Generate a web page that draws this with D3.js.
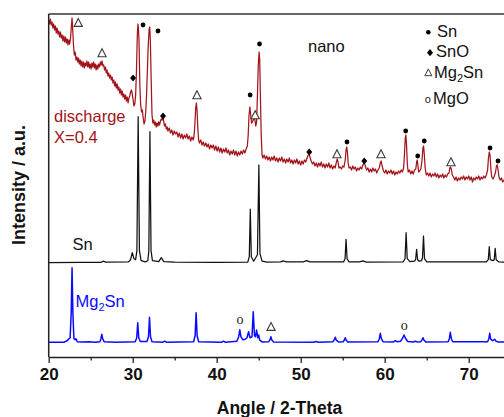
<!DOCTYPE html>
<html>
<head>
<meta charset="utf-8">
<script src="https://cdn.jsdelivr.net/npm/d3@7"></script>
<style>
  html, body { margin: 0; padding: 0; background: #fff; }
  svg { display: block; font-family: "Liberation Sans", Arial, sans-serif; }
</style>
</head>
<body>
<svg id="chart" width="504" height="417"></svg>
<script>
// Angle ticks (2-theta, degrees); the axis runs to 80 but the frame is cropped near 74
const angleTicks = [20, 30, 40, 50, 60, 70];
const minorAngleTicks = [25, 35, 45, 55, 65, 75];

// Pattern names and their vertical stacking offsets (a.u.)
const seriesNames = ["Mg2Sn", "Sn", "discharge X=0.4"];
const seriesOffsets = [14.3, 94.3, 170];
const seriesColors = ["#0a0aff", "#111111", "#a3141a"];

// Reference Mg2Sn pattern: [angle, intensity above its baseline]
const mg2snPattern = [
  [20, 0.5], [21.8, 0.5], [22.2, 2], [22.35, 3.5], [22.55, 5], [22.68, 30], [22.78, 75], [22.88, 30],
  [23.0, 4], [23.15, 3], [23.25, 4], [23.4, 1], [24, 0.6], [24.8, 1], [25.5, 0.5], [26.1, 1],
  [26.22, 4], [26.32, 8.5], [26.42, 4], [26.6, 1], [28, 0.5], [30.3, 1], [30.48, 5], [30.6, 20],
  [30.72, 5], [30.9, 1.2], [31.7, 1.2], [31.88, 6], [32.0, 25.4], [32.12, 6], [32.3, 1], [33.6, 0.5],
  [33.8, 1.5], [34.0, 0.5], [37.25, 1], [37.43, 7], [37.55, 30], [37.67, 7], [37.85, 1], [40.6, 0.5],
  [40.8, 1.5], [41.0, 0.5], [42.4, 1.5], [42.62, 6], [42.75, 13], [42.88, 6], [43.1, 3], [43.4, 3.5],
  [43.6, 5], [43.8, 11], [43.95, 5], [44.2, 6], [44.35, 31], [44.5, 7], [44.62, 6], [44.75, 12.7],
  [44.88, 5], [45.0, 7.7], [45.12, 2.5], [45.4, 0.8], [46.2, 1], [46.35, 3], [46.45, 6], [46.55, 3],
  [46.75, 0.8], [51.5, 0.5], [51.8, 1.2], [52.1, 0.5], [53.85, 1], [54.0, 3], [54.12, 5.4], [54.24, 2.5],
  [54.5, 0.8], [55.05, 1], [55.18, 2.5], [55.3, 5], [55.42, 2.5], [55.6, 0.8], [59.2, 1], [59.36, 4],
  [59.48, 9.4], [59.6, 4], [59.8, 1], [61.05, 0.8], [61.26, 2], [61.45, 1], [61.9, 1.5], [62.1, 4],
  [62.3, 7.7], [62.5, 4], [62.75, 1.2], [63.45, 0.8], [63.65, 1.5], [63.85, 0.8], [64.3, 1], [64.45, 3],
  [64.56, 5], [64.68, 2.5], [64.9, 0.8], [67.55, 1], [67.7, 4], [67.81, 10.4], [67.93, 4], [68.1, 1],
  [72.25, 1], [72.4, 4], [72.5, 9.4], [72.62, 3.5], [72.85, 2], [73.0, 2.8], [73.1, 3.4], [73.25, 1.5],
  [73.5, 0.8], [75, 0.5]
];

// Reference Sn pattern
const snPattern = [
  [20, 0], [24, 0.3], [26.2, 0.3], [26.5, 1.5], [26.8, 0.5], [29.5, 0.8], [29.75, 3], [29.95, 10],
  [30.15, 4], [30.35, 3], [30.5, 12], [30.65, 146], [30.8, 12], [31.0, 2], [31.5, 0.8], [31.8, 2],
  [31.92, 12], [32.05, 131], [32.18, 12], [32.35, 2], [33.1, 1], [33.4, 5], [33.7, 1], [35, 0.5],
  [40, 0.3], [43.7, 0.5], [43.88, 6], [44.0, 53.5], [44.12, 6], [44.4, 1.5], [44.85, 8], [45.02, 97.7],
  [45.15, 9], [45.4, 1.5], [46, 0.5], [47.6, 0.8], [47.9, 1.8], [48.3, 0.8], [50.3, 0.8], [50.7, 2],
  [51.1, 0.8], [55.1, 0.8], [55.28, 4], [55.4, 23.4], [55.52, 4], [55.75, 0.8], [57.0, 0.8], [57.4, 1.8],
  [57.8, 0.6], [62.2, 0.8], [62.42, 4], [62.55, 30], [62.68, 4], [63.0, 1], [63.55, 1.5], [63.68, 3],
  [63.8, 13.4], [63.92, 3], [64.1, 1.5], [64.38, 2], [64.5, 5], [64.62, 26.7], [64.74, 4], [65.0, 0.8],
  [72.1, 0.8], [72.33, 3], [72.45, 16], [72.57, 3], [72.9, 2], [73.04, 3], [73.15, 14.4], [73.27, 3],
  [73.6, 0.8], [75, 0.5]
];

// Discharged electrode (X = 0.4), nano
const dischargePattern = [
  [20.0, 167], [20.1, 163], [20.2, 168], [20.3, 162], [20.4, 165], [20.5, 159], [20.6, 163], [20.7, 157],
  [20.8, 161], [20.9, 154], [21.0, 159], [21.1, 153], [21.2, 156], [21.3, 150], [21.4, 155], [21.5, 149],
  [21.6, 152], [21.7, 146], [21.8, 151], [21.9, 145], [22.0, 150], [22.1, 144], [22.2, 148], [22.3, 142],
  [22.4, 147], [22.5, 143], [22.6, 149], [22.7, 161], [22.78, 169], [22.86, 157], [22.95, 142], [23.05, 132],
  [23.15, 135], [23.25, 127], [23.35, 130], [23.45, 125], [23.55, 129], [23.65, 123], [23.75, 127], [23.85, 121],
  [23.95, 126], [24.05, 120], [24.15, 125], [24.25, 119], [24.35, 124], [24.45, 121], [24.55, 126], [24.65, 120],
  [24.75, 125], [24.85, 119], [24.95, 123], [25.05, 118], [25.15, 124], [25.25, 120], [25.35, 125], [25.45, 119],
  [25.55, 123], [25.65, 117], [25.75, 122], [25.85, 118], [25.95, 123], [26.05, 120], [26.15, 125], [26.25, 122],
  [26.35, 126], [26.45, 121], [26.55, 122], [26.65, 117], [26.75, 120], [26.85, 114], [26.95, 117], [27.05, 111],
  [27.15, 114], [27.25, 109], [27.35, 112], [27.45, 107], [27.55, 110], [27.65, 104], [27.75, 107], [27.85, 101],
  [27.95, 105], [28.05, 99], [28.15, 103], [28.25, 97], [28.35, 100], [28.45, 94], [28.55, 98], [28.65, 92],
  [28.75, 96], [28.85, 90], [28.95, 93], [29.05, 88], [29.15, 92], [29.25, 86], [29.35, 90], [29.45, 84],
  [29.55, 89], [29.65, 91], [29.75, 95], [29.85, 97], [29.95, 93], [30.05, 87], [30.15, 81], [30.25, 83],
  [30.35, 92], [30.45, 117], [30.55, 152], [30.62, 163], [30.68, 159], [30.75, 147], [30.85, 102], [30.95, 82],
  [31.05, 75], [31.15, 77], [31.25, 69], [31.35, 63], [31.45, 66], [31.55, 75], [31.65, 92], [31.75, 117],
  [31.85, 142], [31.95, 157], [32.03, 160], [32.1, 147], [32.2, 107], [32.3, 72], [32.4, 64], [32.5, 67],
  [32.6, 62], [32.7, 65], [32.8, 60], [32.9, 64], [33.0, 61], [33.1, 65], [33.2, 62], [33.3, 66],
  [33.4, 68], [33.5, 67], [33.6, 70], [33.7, 65], [33.8, 61], [33.9, 63], [34.0, 58], [34.1, 60],
  [34.2, 56], [34.35, 59], [34.5, 54], [34.65, 57], [34.8, 52], [34.95, 56], [35.1, 53], [35.25, 55],
  [35.4, 50], [35.55, 54], [35.7, 49], [35.85, 53], [36.0, 48], [36.15, 52], [36.3, 49], [36.45, 53],
  [36.6, 48], [36.75, 51], [36.9, 46], [37.05, 50], [37.2, 47], [37.3, 51], [37.4, 62], [37.5, 79],
  [37.58, 84], [37.66, 77], [37.75, 59], [37.85, 47], [37.95, 44], [38.1, 47], [38.25, 42], [38.4, 45],
  [38.55, 41], [38.7, 44], [38.85, 40], [39.0, 43], [39.15, 38], [39.3, 42], [39.45, 39], [39.6, 42],
  [39.75, 37], [39.9, 41], [40.05, 36], [40.2, 40], [40.35, 35], [40.5, 39], [40.65, 34], [40.8, 38],
  [40.95, 35], [41.1, 39], [41.25, 34], [41.4, 37], [41.55, 32], [41.7, 36], [41.85, 33], [42.0, 37],
  [42.15, 32], [42.3, 36], [42.45, 31], [42.6, 35], [42.75, 32], [42.9, 36], [43.05, 33], [43.2, 37],
  [43.35, 34], [43.5, 38], [43.65, 41], [43.75, 52], [43.85, 72], [43.95, 80], [44.05, 72], [44.15, 64],
  [44.25, 65], [44.35, 67], [44.45, 69], [44.55, 67], [44.65, 61], [44.75, 65], [44.85, 92], [44.95, 122],
  [45.05, 135], [45.12, 127], [45.2, 92], [45.3, 52], [45.4, 32], [45.5, 29], [45.65, 32], [45.8, 28],
  [45.95, 31], [46.1, 27], [46.25, 30], [46.4, 26], [46.55, 30], [46.7, 27], [46.85, 31], [47.0, 26],
  [47.15, 29], [47.3, 25], [47.45, 29], [47.6, 26], [47.75, 30], [47.9, 25], [48.05, 28], [48.2, 24],
  [48.35, 28], [48.5, 25], [48.65, 29], [48.8, 24], [48.95, 27], [49.1, 23], [49.25, 27], [49.4, 24],
  [49.55, 28], [49.7, 23], [49.85, 26], [50.0, 22], [50.15, 26], [50.3, 23], [50.45, 27], [50.6, 25],
  [50.75, 29], [50.9, 32], [51.0, 34], [51.1, 30], [51.25, 26], [51.4, 23], [51.55, 25], [51.7, 21],
  [51.85, 24], [52.0, 20], [52.15, 24], [52.3, 21], [52.45, 25], [52.6, 20], [52.75, 23], [52.9, 19],
  [53.05, 23], [53.2, 20], [53.35, 24], [53.5, 19], [53.65, 22], [53.8, 18], [53.95, 21], [54.1, 19],
  [54.25, 25], [54.35, 28], [54.45, 25], [54.55, 19], [54.7, 20], [54.85, 18], [55.0, 21], [55.15, 20],
  [55.3, 27], [55.4, 37], [55.48, 40], [55.56, 35], [55.65, 24], [55.75, 19], [55.9, 20], [56.05, 17],
  [56.2, 21], [56.35, 18], [56.5, 20], [56.65, 16], [56.8, 19], [56.95, 17], [57.1, 20], [57.25, 18],
  [57.4, 22], [57.55, 24], [57.7, 21], [57.85, 17], [58.0, 19], [58.15, 15], [58.3, 18], [58.45, 15],
  [58.6, 19], [58.75, 16], [58.9, 18], [59.05, 14], [59.2, 17], [59.35, 19], [59.5, 25], [59.58, 26],
  [59.7, 21], [59.85, 16], [60.0, 14], [60.15, 17], [60.3, 13], [60.45, 16], [60.6, 14], [60.75, 17],
  [60.9, 13], [61.05, 16], [61.2, 12], [61.35, 15], [61.5, 13], [61.65, 16], [61.8, 14], [61.95, 17],
  [62.1, 15], [62.25, 19], [62.35, 32], [62.45, 49], [62.52, 52], [62.6, 42], [62.7, 22], [62.8, 15],
  [62.95, 17], [63.1, 13], [63.25, 16], [63.4, 13], [63.55, 17], [63.7, 18], [63.8, 25], [63.88, 27],
  [63.96, 21], [64.05, 15], [64.15, 16], [64.3, 18], [64.45, 27], [64.55, 39], [64.63, 41], [64.72, 32],
  [64.82, 19], [64.95, 12], [65.1, 14], [65.25, 11], [65.4, 14], [65.55, 10], [65.7, 13], [65.85, 11],
  [66.0, 14], [66.15, 10], [66.3, 13], [66.45, 9], [66.6, 12], [66.75, 10], [66.9, 13], [67.05, 9],
  [67.2, 12], [67.35, 10], [67.5, 13], [67.65, 14], [67.75, 19], [67.85, 20], [67.95, 17], [68.05, 12],
  [68.2, 10], [68.35, 7], [68.5, 10], [68.65, 6], [68.8, 9], [68.95, 7], [69.1, 10], [69.25, 8],
  [69.4, 11], [69.55, 7], [69.7, 10], [69.85, 8], [70.0, 11], [70.15, 7], [70.3, 10], [70.45, 5],
  [70.6, 9], [70.75, 7], [70.9, 10], [71.05, 8], [71.2, 11], [71.35, 7], [71.5, 10], [71.65, 8],
  [71.8, 11], [71.95, 9], [72.1, 12], [72.25, 17], [72.35, 29], [72.45, 35], [72.55, 31], [72.65, 17],
  [72.75, 10], [72.9, 8], [73.05, 11], [73.2, 15], [73.3, 21], [73.4, 22], [73.5, 17], [73.6, 10],
  [73.75, 7], [73.9, 9], [74.05, 5], [74.2, 7], [74.35, 4], [74.5, 6]
];

// Phase marks on the discharged pattern: [angle, intensity above its baseline]
const dischargeSnMarks = [[31.23, 162], [33.01, 156], [43.98, 92], [45.1, 143], [55.51, 45], [62.5, 56],
  [63.93, 31], [64.71, 46], [72.54, 39], [73.49, 26]];
const dischargeSnOMarks = [[30.04, 109], [33.61, 71], [51.02, 35], [57.57, 26]];
const dischargeMg2SnMarks = [[23.52, 164.3], [26.35, 134], [37.65, 92], [44.58, 72], [54.32, 33],
  [59.56, 33], [67.89, 25]];
// Marks on the Mg2Sn reference pattern
const mg2snMgOMarks = [[42.77, 22], [62.33, 16]];
const mg2snMg2SnMarks = [[46.47, 16]];

// ---- layout ----
const svg = d3.select("#chart");
const plot = { left: 48.7, top: 14, bottom: 357, pxPerDeg: 8.4 };
const x = d3.scaleLinear().domain([20, 80]).range([plot.left, plot.left + 60 * plot.pxPerDeg]);
const y = d3.scaleLinear().domain([0, 343]).range([plot.bottom, plot.top]);

svg.append("defs").append("clipPath").attr("id", "plotClip")
  .append("rect").attr("x", plot.left).attr("y", plot.top - 6)
  .attr("width", x(80) - plot.left).attr("height", plot.bottom - plot.top + 6);

const patterns = [mg2snPattern, snPattern, dischargePattern];
const lineGroup = svg.append("g").attr("clip-path", "url(#plotClip)");
patterns.forEach((pts, i) => {
  const off = seriesOffsets[i];
  const line = d3.line().x(d => x(d[0])).y(d => y(d[1] + off));
  lineGroup.append("path")
    .datum(pts)
    .attr("d", line)
    .attr("fill", "none")
    .attr("stroke", seriesColors[i])
    .attr("stroke-width", i === 0 ? 1.5 : 1.25)
    .attr("stroke-linejoin", "round");
});

// ---- marker shapes ----
const diamondPath = "M0,-3.6L3,0L0,3.6L-3,0Z";
const deltaPath = "M0,-4.3L4.1,3.7L-4.1,3.7Z";
const smallDeltaPath = "M0,-3.6L3.5,3.2L-3.5,3.2Z";

const markG = svg.append("g");
function dotMarks(data, off) {
  markG.selectAll(null).data(data).enter().append("circle")
    .attr("cx", d => x(d[0])).attr("cy", d => y(d[1] + off))
    .attr("r", 2.4).attr("fill", "#000");
}
function diamondMarks(data, off) {
  markG.selectAll(null).data(data).enter().append("path")
    .attr("transform", d => `translate(${x(d[0])},${y(d[1] + off)})`)
    .attr("d", diamondPath).attr("fill", "#000");
}
function deltaMarks(data, off) {
  markG.selectAll(null).data(data).enter().append("path")
    .attr("transform", d => `translate(${x(d[0])},${y(d[1] + off)})`)
    .attr("d", deltaPath).attr("fill", "#fff")
    .attr("stroke", "#3a3a3a").attr("stroke-width", 1.1).attr("stroke-linejoin", "miter");
}
function oMarks(data, off) {
  markG.selectAll(null).data(data).enter().append("text")
    .attr("x", d => x(d[0])).attr("y", d => y(d[1] + off) + 3)
    .attr("text-anchor", "middle").attr("font-size", 14)
    .attr("font-family", "'Liberation Serif', 'Times New Roman', serif")
    .attr("fill", "#222").text("o");
}
dotMarks(dischargeSnMarks, seriesOffsets[2]);
diamondMarks(dischargeSnOMarks, seriesOffsets[2]);
deltaMarks(dischargeMg2SnMarks, seriesOffsets[2]);
oMarks(mg2snMgOMarks, seriesOffsets[0]);
deltaMarks(mg2snMg2SnMarks, seriesOffsets[0]);

// ---- frame and axes ----
svg.append("line").attr("x1", plot.left).attr("x2", x(80))
  .attr("y1", plot.top).attr("y2", plot.top)
  .attr("stroke", "#333").attr("stroke-width", 1.6);
svg.append("line").attr("x1", plot.left).attr("x2", plot.left)
  .attr("y1", plot.top).attr("y2", plot.bottom)
  .attr("stroke", "#222").attr("stroke-width", 1.5);

const xAxis = svg.append("g").attr("transform", `translate(0,${plot.bottom})`)
  .call(d3.axisBottom(x).tickValues(angleTicks).tickSize(6).tickSizeOuter(0).tickPadding(5));
xAxis.select(".domain").attr("stroke", "#222").attr("stroke-width", 1.5);
xAxis.selectAll(".tick line").attr("stroke", "#222").attr("stroke-width", 1.3);
xAxis.selectAll(".tick text")
  .attr("font-family", "'Liberation Sans', Arial, sans-serif")
  .attr("font-size", 17).attr("font-weight", "bold").attr("fill", "#111");

const xMinor = svg.append("g").attr("transform", `translate(0,${plot.bottom})`)
  .call(d3.axisBottom(x).tickValues(minorAngleTicks).tickSize(3.5).tickSizeOuter(0).tickFormat(""));
xMinor.select(".domain").remove();
xMinor.selectAll(".tick line").attr("stroke", "#222").attr("stroke-width", 1.3);

svg.append("text")
  .attr("x", 279.5).attr("y", 414).attr("text-anchor", "middle")
  .attr("font-size", 17.5).attr("font-weight", "bold").attr("fill", "#111")
  .text("Angle / 2-Theta");
svg.append("text")
  .attr("transform", "translate(24.5,185) rotate(-90)").attr("text-anchor", "middle")
  .attr("font-size", 18).attr("font-weight", "bold").attr("fill", "#111")
  .text("Intensity / a.u.");

// ---- pattern labels ----
const labels = svg.append("g").attr("font-size", 16.5);
labels.append("text").attr("x", 54).attr("y", 121.5).attr("fill", seriesColors[2]).text("discharge");
labels.append("text").attr("x", 54).attr("y", 142.7).attr("fill", seriesColors[2]).text("X=0.4");
labels.append("text").attr("x", 308).attr("y", 51.5).attr("fill", "#111").text("nano");
labels.append("text").attr("x", 72.5).attr("y", 250).attr("fill", "#111").text("Sn");
const mgLabel = labels.append("text").attr("x", 75.5).attr("y", 307).attr("fill", seriesColors[0]);
mgLabel.append("tspan").text("Mg");
mgLabel.append("tspan").attr("font-size", 11).attr("dy", 4).text("2");
mgLabel.append("tspan").attr("dy", -4).text("Sn");

// ---- phase legend ----
const leg = svg.append("g").attr("font-size", 16.5).attr("fill", "#111");
leg.append("circle").attr("cx", 428.3).attr("cy", 32.3).attr("r", 2.3).attr("fill", "#000");
leg.append("text").attr("x", 437).attr("y", 37).text("Sn");
leg.append("path").attr("transform", "translate(430,52.7)")
  .attr("d", diamondPath).attr("fill", "#000");
leg.append("text").attr("x", 436).attr("y", 57).text("SnO");
leg.append("path").attr("transform", "translate(428.3,72.5)")
  .attr("d", smallDeltaPath).attr("fill", "#fff")
  .attr("stroke", "#3a3a3a").attr("stroke-width", 1);
const legMg = leg.append("text").attr("x", 434).attr("y", 77.5);
legMg.append("tspan").text("Mg");
legMg.append("tspan").attr("font-size", 11).attr("dy", 4).text("2");
legMg.append("tspan").attr("dy", -4).text("Sn");
leg.append("text").attr("x", 427.7).attr("y", 103.3).attr("text-anchor", "middle")
  .attr("font-size", 11).attr("fill", "#222").text("o");
leg.append("text").attr("x", 433).attr("y", 103.5).text("MgO");
</script>
</body>
</html>
